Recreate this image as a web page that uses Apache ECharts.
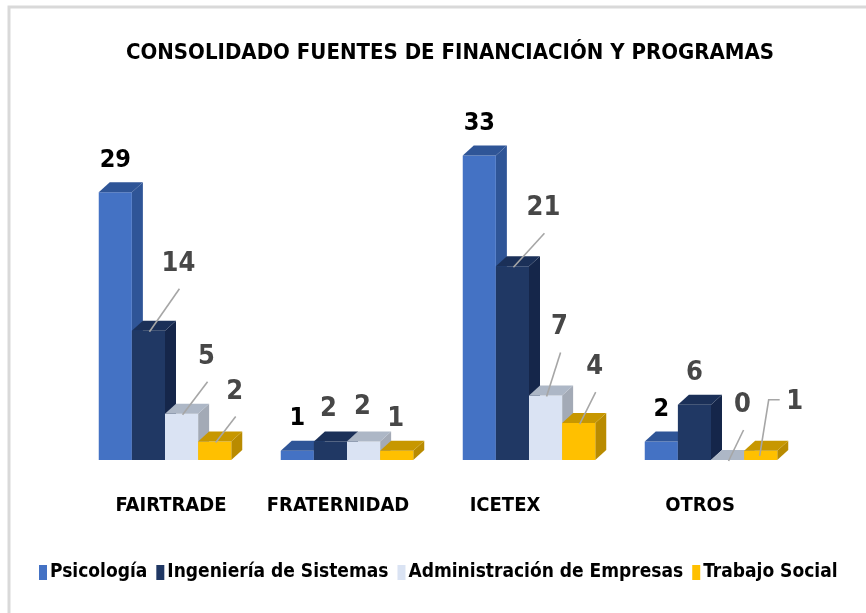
<!DOCTYPE html>
<html>
<head>
<meta charset="utf-8">
<script src="https://cdn.jsdelivr.net/npm/echarts@6/dist/echarts.min.js"></script>
<style>
  html, body { margin: 0; padding: 0; background: #fff; }
  #chart { width: 866px; height: 613px; }
</style>
</head>
<body>
<div id="chart"></div>
<script>
var myChart = echarts.init(document.getElementById('chart'));

// data
var categories = ['FAIRTRADE', 'FRATERNIDAD', 'ICETEX', 'OTROS'];
var psicologia = [29, 1, 33, 2];
var ingenieria = [14, 2, 21, 6];
var administracion = [5, 2, 7, 0];
var trabajoSocial = [2, 1, 4, 1];
var seriesNames = ['Psicología', 'Ingeniería de Sistemas', 'Administración de Empresas', 'Trabajo Social'];

var FONT = "'DejaVu Sans Condensed', 'Liberation Sans Narrow', sans-serif";
// front / side / top colours of the fake 3d boxes
var FACES = [
  ['#4472c4', '#2f5597', '#2f5597'],
  ['#203864', '#15264a', '#1b3058'],
  ['#dae3f3', '#a3aab6', '#adb7c6'],
  ['#ffc000', '#b98b00', '#c79700']
];
var DX = 11, DY = 10;
// where the value label sits relative to the top of the bar, and if it gets a leader line
// [dx, dy, line]  line: 0 none, 1 straight, 2 elbow
var LABEL_POS = [
  [[0, -32, 0], [0, -32, 0], [0, -32, 0], [0, -32, 0]],
  [[30, -67, 1], [-2, -33, 0], [31, -58, 1], [0, -32, 0]],
  [[25, -57, 1], [-1, -35, 0], [14, -68, 1], [15, -55, 1]],
  [[20, -50, 1], [-1, -32, 0], [16, -56, 1], [34, -49, 2]]
];
// nudge of the category names (excel puts them a bit off the bar groups)
var CAT_SHIFT = [6, -9, -24, -11];

function renderBox(params, api) {
  var s = params.seriesIndex;
  var cat = api.value(0);
  var val = api.value(1);
  var base = api.coord([cat, 0]);
  var top = api.coord([cat, val]);
  var band = api.size([1, 0])[0];
  var w = band * 0.182;
  var x0 = base[0] - 2 * w + s * w;
  var x1 = x0 + w;
  var yb = base[1], yt = top[1];
  var c = FACES[s];
  var children = [
    { type: 'polygon', shape: { points: [[x1, yt], [x1 + DX, yt - DY], [x1 + DX, yb - DY], [x1, yb]] }, style: { fill: c[1] } },
    { type: 'rect', shape: { x: x0, y: yt, width: w, height: yb - yt }, style: { fill: c[0] } },
    { type: 'polygon', shape: { points: [[x0, yt], [x1, yt], [x1 + DX, yt - DY], [x0 + DX, yt - DY]] }, style: { fill: c[2] } }
  ];
  var lp = LABEL_POS[s][cat];
  var cx = (x0 + x1) / 2;
  var lx = cx + lp[0], ly = yt + lp[1];
  if (lp[2] === 1) {
    children.push({ type: 'line', shape: { x1: cx + 1, y1: yt + 1, x2: lx + 1, y2: ly + 25 },
      style: { stroke: '#a6a6a6', lineWidth: 1.6 } });
  } else if (lp[2] === 2) {
    children.push({ type: 'polyline', shape: { points: [[cx - 1, yt + 5], [cx + 8, ly - 2], [lx - 15, ly - 2]] },
      style: { stroke: '#a6a6a6', lineWidth: 1.6, fill: null } });
  }
  children.push({
    type: 'text',
    style: {
      x: lx, y: ly, text: String(val), align: 'center', verticalAlign: 'middle',
      fill: s === 0 ? '#000000' : '#474747',
      font: (s === 0 ? 'bold 25px ' : 'bold 27px ') + FONT
    }
  });
  return { type: 'group', children: children };
}

function makeSeries(name, values) {
  return {
    name: name,
    type: 'custom',
    renderItem: renderBox,
    itemStyle: { color: FACES[seriesNames.indexOf(name)][0] },
    encode: { x: 0, y: 1 },
    data: values.map(function (v, i) { return [i, v]; })
  };
}

var catRich = {};
CAT_SHIFT.forEach(function (d, i) {
  catRich['c' + i] = {
    fontFamily: FONT, fontWeight: 'bold', fontSize: 20, color: '#000000',
    padding: d > 0 ? [0, 0, 0, 2 * d] : [0, -2 * d, 0, 0]
  };
});

var option = {
  backgroundColor: '#ffffff',
  animation: false,
  graphic: [{
    type: 'rect', shape: { x: 9, y: 7, width: 870, height: 620 },
    style: { fill: null, stroke: '#d9d9d9', lineWidth: 3 }, silent: true
  }],
  title: {
    text: 'CONSOLIDADO FUENTES DE FINANCIACIÓN Y PROGRAMAS',
    left: 445, top: 37, textAlign: 'center',
    textStyle: { fontFamily: FONT, fontWeight: 'bold', fontSize: 22, color: '#000000' }
  },
  legend: {
    bottom: 26, left: 34, right: 10,
    itemWidth: 8, itemHeight: 15, itemGap: 9,
    icon: 'rect',
    textStyle: { fontFamily: FONT, fontWeight: 'bold', fontSize: 19, color: '#000000', padding: [0, 0, 0, -2] },
    data: seriesNames
  },
  grid: { left: 74, right: 64, top: 137, bottom: 153 },
  xAxis: {
    type: 'category',
    data: categories,
    axisLine: { show: false },
    axisTick: { show: false },
    axisLabel: {
      interval: 0, margin: 36,
      formatter: function (v, i) { return '{c' + i + '|' + v + '}'; },
      rich: catRich
    }
  },
  yAxis: {
    type: 'value', min: 0, max: 35,
    show: false,
    splitLine: { show: false }
  },
  series: [
    makeSeries(seriesNames[0], psicologia),
    makeSeries(seriesNames[1], ingenieria),
    makeSeries(seriesNames[2], administracion),
    makeSeries(seriesNames[3], trabajoSocial)
  ]
};

myChart.setOption(option);
</script>
</body>
</html>
